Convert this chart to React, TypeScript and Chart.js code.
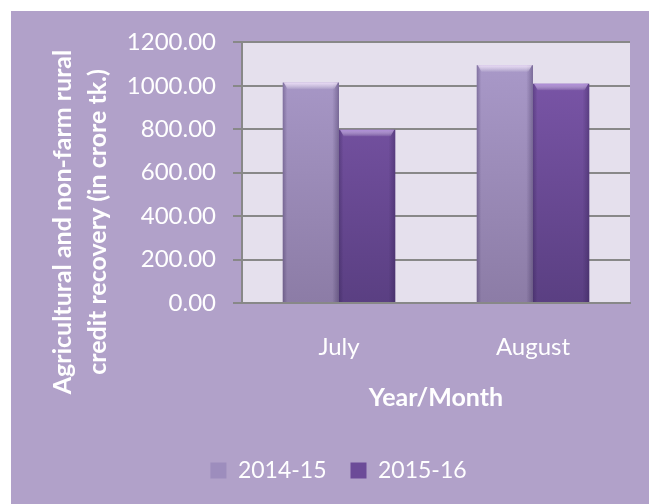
import React, { useEffect, useRef } from "react";
import { Chart, registerables } from "chart.js";

Chart.register(...registerables);

const categories = ["July", "August"];
const seriesNames = ["2014-15", "2015-16"];
const series2014_15 = [1015, 1095];
const series2015_16 = [798, 1010];
const yTitleLines = ["Agricultural and non-farm rural", "credit recovery (in crore tk.)"];
const xTitle = "Year/Month";

const BG = "#b1a1c9";
const PLOT_BG = "#e5e0ed";
const GRID = "#888888";
const FONT = "Lato, 'Open Sans', sans-serif";

const gradStops = [
  ["#ab9bcb", "#8c7ca6"],
  ["#7e58ac", "#5a3f82"],
];
const solidColors = ["#9d8dbd", "#6c4b98"];
const bevelColors = ["rgba(240,225,250,0.9)", "rgba(180,145,222,0.9)"];

function makeGradient(ctx: any, idx: number) {
  const chart = ctx.chart;
  const area = chart.chartArea;
  if (!area) return solidColors[idx];
  const g = chart.ctx.createLinearGradient(0, area.top, 0, area.bottom);
  g.addColorStop(0, gradStops[idx][0]);
  g.addColorStop(1, gradStops[idx][1]);
  return g;
}

const plotBgPlugin = {
  id: "plotBg",
  beforeDraw(chart: any) {
    const { ctx, chartArea } = chart;
    ctx.save();
    ctx.fillStyle = PLOT_BG;
    ctx.fillRect(chartArea.left, chartArea.top, chartArea.right - chartArea.left, chartArea.bottom - chartArea.top);
    ctx.restore();
  },
};

const barDecorPlugin = {
  id: "barDecor",
  afterDatasetsDraw(chart: any) {
    const ctx = chart.ctx;
    chart.data.datasets.forEach((_: any, di: number) => {
      const meta = chart.getDatasetMeta(di);
      meta.data.forEach((el: any) => {
        const { x, y, base, width } = el.getProps(["x", "y", "base", "width"], true);
        const left = x - width / 2;
        const h = base - y;
        ctx.save();
        const lg = ctx.createLinearGradient(left, 0, left + width, 0);
        lg.addColorStop(0, "rgba(40,25,70,0.30)");
        lg.addColorStop(0.08, "rgba(40,25,70,0.0)");
        lg.addColorStop(0.88, "rgba(40,25,70,0.0)");
        lg.addColorStop(1, "rgba(40,25,70,0.35)");
        ctx.fillStyle = lg;
        ctx.fillRect(left, y, width, h);
        const tg = ctx.createLinearGradient(0, y, 0, y + 7);
        tg.addColorStop(0, bevelColors[di]);
        tg.addColorStop(1, "rgba(255,255,255,0)");
        ctx.fillStyle = tg;
        ctx.beginPath();
        ctx.moveTo(left + 1, y);
        ctx.lineTo(left + width - 1, y);
        ctx.lineTo(left + width - 5, y + 7);
        ctx.lineTo(left + 5, y + 7);
        ctx.closePath();
        ctx.fill();
        ctx.restore();
      });
    });
  },
};

const yTitlePlugin = {
  id: "yTitle",
  afterDraw(chart: any) {
    const ctx = chart.ctx;
    ctx.save();
    ctx.fillStyle = "#ffffff";
    ctx.font = `bold 25px ${FONT}`;
    ctx.textAlign = "center";
    ctx.textBaseline = "middle";
    const xs = [52, 87];
    yTitleLines.forEach((line, i) => {
      ctx.save();
      ctx.translate(xs[i], 211);
      ctx.rotate(-Math.PI / 2);
      ctx.fillText(line, 0, 0);
      ctx.restore();
    });
    ctx.restore();
  },
};

export default function App() {
  const canvasRef = useRef<HTMLCanvasElement | null>(null);

  useEffect(() => {
    if (!canvasRef.current) return;
    const chart = new Chart(canvasRef.current, {
      type: "bar",
      data: {
        labels: categories,
        datasets: [
          {
            label: seriesNames[0],
            data: series2014_15,
            backgroundColor: (c: any) => makeGradient(c, 0),
            borderWidth: 0,
            categoryPercentage: 0.58,
            barPercentage: 1,
          },
          {
            label: seriesNames[1],
            data: series2015_16,
            backgroundColor: (c: any) => makeGradient(c, 1),
            borderWidth: 0,
            categoryPercentage: 0.58,
            barPercentage: 1,
          },
        ],
      },
      options: {
        responsive: false,
        animation: false,
        devicePixelRatio: 1,
        layout: { padding: { left: 36, right: 19, top: 30, bottom: 12 } },
        plugins: {
          tooltip: { enabled: false },
          legend: {
            position: "bottom",
            labels: {
              color: "#ffffff",
              font: { family: FONT, size: 23 },
              boxWidth: 16,
              boxHeight: 16,
              padding: 24,
              generateLabels: (chart: any) => {
                const items = Chart.defaults.plugins.legend.labels.generateLabels(chart);
                return items.map((it: any, i: number) => ({
                  ...it,
                  fillStyle: solidColors[i],
                  strokeStyle: "rgba(0,0,0,0)",
                  lineWidth: 0,
                }));
              },
            },
          },
        },
        scales: {
          x: {
            grid: { display: false, drawTicks: false },
            border: { display: true, color: GRID, width: 2 },
            ticks: {
              color: "#ffffff",
              font: { family: FONT, size: 24 },
              padding: 30,
            },
            title: {
              display: true,
              text: xTitle,
              color: "#ffffff",
              font: { family: FONT, size: 25, weight: "bold" },
              padding: { top: 0, bottom: 22 },
            },
            afterFit: (s: any) => {
              s.height = 132;
            },
          },
          y: {
            min: 0,
            max: 1200,
            grid: { color: GRID, lineWidth: 2, tickLength: 9, drawTicks: true },
            border: { display: true, color: GRID, width: 2 },
            ticks: {
              stepSize: 200,
              color: "#ffffff",
              font: { family: FONT, size: 24 },
              padding: 17,
              callback: (v: any) => Number(v).toFixed(2),
            },
            afterFit: (s: any) => {
              s.width = 195;
            },
          },
        },
      },
      plugins: [plotBgPlugin, barDecorPlugin, yTitlePlugin],
    } as any);
    return () => chart.destroy();
  }, []);

  return (
    <div style={{ position: "fixed", left: 0, top: 0, width: 649, height: 504, background: "#ffffff" }}>
      <div style={{ position: "absolute", left: 11, top: 11, width: 638, height: 493, background: BG }}>
        <canvas ref={canvasRef} width={638} height={493} style={{ display: "block" }} />
      </div>
    </div>
  );
}
